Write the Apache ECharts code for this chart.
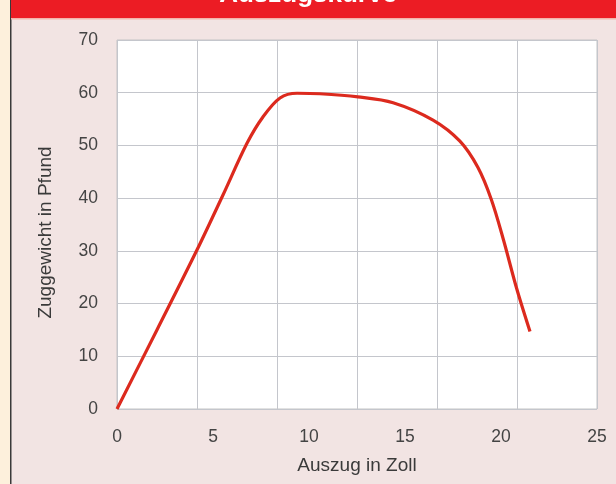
<!DOCTYPE html>
<html>
<head>
<meta charset="utf-8">
<script src="https://cdn.jsdelivr.net/npm/echarts@6/dist/echarts.min.js"></script>
<style>
html,body{margin:0;padding:0;background:#f2e4e3;}
#c{width:616px;height:484px;}
</style>
</head>
<body>
<div id="c"></div>
<script>
const titleText = 'Auszugskurve';
const xName = 'Auszug in Zoll';
const yName = 'Zuggewicht in Pfund';
const auszug = [0, 2.08, 4.17, 5.52, 6.77, 7.6, 8.49, 9.38, 10.57, 12.55, 14.38, 16.46, 17.86, 18.8, 19.5, 20.12, 20.82, 21.51];
const zuggewicht = [0, 15.0, 30.2, 40.6, 50.4, 55.4, 59.0, 59.9, 59.8, 59.2, 58.1, 54.8, 50.8, 45.8, 39.7, 32.2, 22.8, 14.7];
const xTicks = [0, 5, 10, 15, 20, 25];
const yTicks = [0, 10, 20, 30, 40, 50, 60, 70];

const chart = echarts.init(document.getElementById('c'), null, {renderer: 'canvas'});
const font = 'Liberation Sans, Arial, sans-serif';
chart.setOption({
  backgroundColor: '#f2e4e3',
  animation: false,
  graphic: [
    {type: 'rect', left: 0, top: 0, shape: {width: 10, height: 484}, style: {fill: '#fdf0dc'}, z: 10},
    {type: 'rect', left: 10, top: 0, shape: {width: 1.5, height: 484}, style: {fill: '#3a3a3a'}, z: 10},
    {type: 'rect', left: 11, top: 0, shape: {width: 605, height: 18}, style: {fill: '#ec1c24'}, z: 10},
    {type: 'rect', left: 11, top: 18, shape: {width: 605, height: 1.5}, style: {fill: '#f3b3ab'}, z: 10},
    {type: 'text', x: 308, y: -5, z: 11,
     style: {text: titleText, fill: '#ffffff', font: 'bold 26px ' + font, align: 'center', verticalAlign: 'middle'}}
  ],
  grid: {left: 117, right: 19, top: 40, bottom: 75, show: true, backgroundColor: '#ffffff', borderColor: '#c4c4c4', borderWidth: 1},
  xAxis: [
    {type: 'value', min: 0, max: 25, interval: 5,
     name: xName, nameLocation: 'middle', nameGap: 47,
     nameTextStyle: {color: '#3a3a3a', fontSize: 19, fontFamily: font},
     axisLine: {show: false}, axisTick: {show: false}, splitLine: {show: false},
     axisLabel: {color: '#444', fontSize: 17.5, fontFamily: font, margin: 19,
       formatter: v => xTicks.includes(v) ? String(v) : ''}},
    {type: 'value', min: 0, max: 6, interval: 1, position: 'bottom',
     axisLine: {show: false}, axisTick: {show: false}, axisLabel: {show: false},
     splitLine: {show: true, lineStyle: {color: '#c4c6cc', width: 1}}}
  ],
  yAxis: {type: 'value', min: 0, max: 70, interval: 10,
    name: yName, nameLocation: 'middle', nameGap: 62,
    nameTextStyle: {color: '#3a3a3a', fontSize: 19, fontFamily: font, padding: [0, 16, 0, 0]},
    axisLine: {show: false}, axisTick: {show: false},
    splitLine: {show: true, lineStyle: {color: '#c4c6cc', width: 1}},
    axisLabel: {color: '#444', fontSize: 17.5, fontFamily: font, margin: 19,
      formatter: v => yTicks.includes(v) ? String(v) : ''}},
  series: [{
    type: 'line', xAxisIndex: 0, yAxisIndex: 0,
    data: auszug.map((x, i) => [x, zuggewicht[i]]),
    smooth: 0.33, showSymbol: false, symbol: 'none',
    lineStyle: {color: '#dc2a1e', width: 3.2}
  }]
});
</script>
</body>
</html>
